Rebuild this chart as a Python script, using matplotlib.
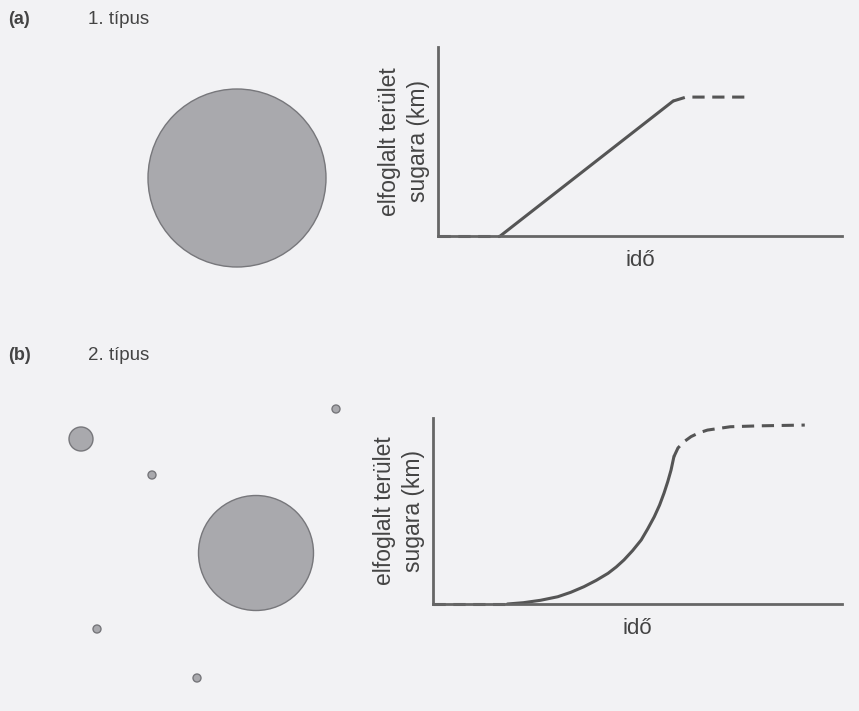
import matplotlib.pyplot as plt
from matplotlib.patches import Circle

plt.rcParams['font.family'] = ['Liberation Sans', 'DejaVu Sans']

# panel titles
panel_tags = ['(a)', '(b)']
panel_titles = ['1. típus', '2. típus']
y_label = 'elfoglalt terület\nsugara (km)'
x_label = 'idő'

# territories (figure pixel coords: x, y, radius)
circles_a_x = [237]
circles_a_y = [178]
circles_a_r = [89]

circles_b_x = [256, 81, 336, 152, 97, 197]
circles_b_y = [553, 439, 409, 475, 629, 678]
circles_b_r = [57.5, 12, 4, 4, 4, 4]

# type 1 growth curve (time, radius) in arbitrary units 0..100
a_lag_t = [0, 15.4]
a_lag_r = [0, 0]
a_grow_t = [15.4, 58.2]
a_grow_r = [0, 71.4]
a_sat_t = [58.2, 61.4, 77.1]
a_sat_r = [71.4, 73.5, 73.5]

# type 2 growth curve
b_lag_t = [0, 18.2]
b_lag_r = [0, 0]
b_grow_t = [18.2, 22.1, 26.3, 30.5, 33.7, 36.9, 39.9, 42.8, 44.8, 46.7, 48.8,
            50.9, 52.5, 54.1, 55.4, 56.5, 57.4, 58.2, 58.9]
b_grow_r = [0, 0.7, 2.0, 3.9, 6.3, 9.3, 12.7, 16.5, 19.9, 23.7, 28.7,
            34.4, 40.4, 46.9, 53.2, 59.7, 65.8, 72.0, 79.2]
b_sat_t = [58.9, 59.9, 61.4, 63.1, 65.0, 67.1, 72.7, 80.0, 90.9]
b_sat_r = [79.2, 83.9, 87.3, 90.0, 92.0, 93.5, 95.3, 95.8, 96.2]

W, H = 859, 711
bg = '#f2f2f4'
ink = '#555555'
txt = '#444444'
fill = '#a9a9ad'
edge = '#77777b'

fig = plt.figure(figsize=(W / 100, H / 100), dpi=100, facecolor=bg)

# background axes in pixel coords for the territory circles
base = fig.add_axes([0, 0, 1, 1])
base.set_xlim(0, W)
base.set_ylim(H, 0)
base.axis('off')
all_circles = list(zip(circles_a_x, circles_a_y, circles_a_r)) + list(zip(circles_b_x, circles_b_y, circles_b_r))
for cx, cy, r in all_circles:
    base.add_patch(Circle((cx, cy), r, facecolor=fill, edgecolor=edge, linewidth=1.0))

for tag, title, ty in zip(panel_tags, panel_titles, [20, 356]):
    base.text(8, ty, tag, fontsize=13, color=txt, va='center', ha='left', fontweight='bold')
    base.text(88, ty, title, fontsize=13.5, color=txt, va='center', ha='left')


def growth_axes(rect, lag, grow, sat):
    left, top, right, bottom = rect
    ax = fig.add_axes([left / W, 1 - bottom / H, (right - left) / W, (bottom - top) / H])
    ax.set_facecolor('none')
    ax.set_xlim(0, 100)
    ax.set_ylim(0, 100)
    for s in ['top', 'right']:
        ax.spines[s].set_visible(False)
    for s in ['left', 'bottom']:
        ax.spines[s].set_color('#666666')
        ax.spines[s].set_linewidth(2)
    ax.set_xticks([])
    ax.set_yticks([])
    ax.plot(lag[0], lag[1], color=ink, lw=2.2, ls=(0, (4, 2.5)), clip_on=False)
    ax.plot(grow[0], grow[1], color=ink, lw=2.2, solid_capstyle='round', solid_joinstyle='round')
    ax.plot(sat[0], sat[1], color=ink, lw=2.2, ls=(0, (4, 2.5)), clip_on=False)
    ax.set_xlabel(x_label, fontsize=16, color=txt, labelpad=10)
    ax.set_ylabel(y_label, fontsize=16.5, color=txt, linespacing=1.3, labelpad=6)
    return ax


growth_axes((438, 47, 842, 236), (a_lag_t, a_lag_r), (a_grow_t, a_grow_r), (a_sat_t, a_sat_r))
growth_axes((433, 418, 842, 604), (b_lag_t, b_lag_r), (b_grow_t, b_grow_r), (b_sat_t, b_sat_r))

fig.savefig('out.png', dpi=100, facecolor=bg)
